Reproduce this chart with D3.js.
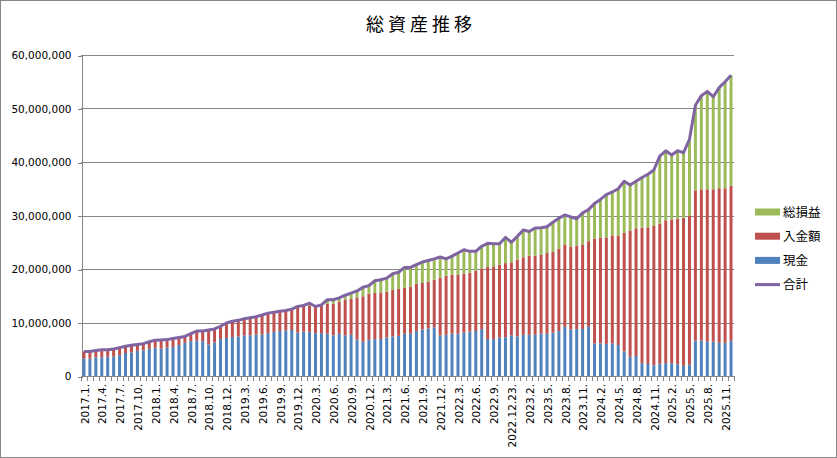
<!DOCTYPE html>
<html>
<head>
<meta charset="utf-8">
<script src="https://cdn.jsdelivr.net/npm/d3@7"></script>
<style>
  body { margin: 0; background: #fff; }
  text { font-family: "DejaVu Sans", sans-serif; fill: #000; }
  .jp { font-family: "Noto Sans CJK JP", sans-serif; }
</style>
</head>
<body>
<svg id="chart"></svg>
<script>
// category labels (one per bar)
const dates = [
  '2017.1.', '2017.2.', '2017.3.', '2017.4.', '2017.5.', '2017.6.', '2017.7.', '2017.8.', '2017.9.', '2017.10.',
  '2017.11.', '2017.12.', '2018.1.', '2018.2.', '2018.3.', '2018.4.', '2018.5.', '2018.6.', '2018.7.', '2018.8.',
  '2018.9.', '2018.10.', '2018.11.', '2018.11.30.', '2018.12.', '2019.1.', '2019.2.', '2019.3.', '2019.4.', '2019.5.',
  '2019.6.', '2019.7.', '2019.8.', '2019.9.', '2019.10.', '2019.11.', '2019.12.', '2020.1.', '2020.2.', '2020.3.',
  '2020.4.', '2020.5.', '2020.6.', '2020.7.', '2020.8.', '2020.9.', '2020.10.', '2020.11.', '2020.12.', '2021.1.',
  '2021.2.', '2021.3.', '2021.4.', '2021.5.', '2021.6.', '2021.7.', '2021.8.', '2021.9.', '2021.10.', '2021.11.',
  '2021.12.', '2022.1.', '2022.2.', '2022.3.', '2022.4.', '2022.5.', '2022.6.', '2022.7.', '2022.8.', '2022.9.',
  '2022.10.', '2022.11.', '2022.12.23.', '2022.12.30.', '2023.1.', '2023.2.', '2023.3.', '2023.4.', '2023.5.', '2023.6.',
  '2023.7.', '2023.8.', '2023.9.', '2023.10.', '2023.11.', '2023.12.', '2024.1.', '2024.2.', '2024.3.', '2024.4.',
  '2024.5.', '2024.6.', '2024.7.', '2024.8.', '2024.9.', '2024.10.', '2024.11.', '2024.12.', '2025.1.', '2025.2.',
  '2025.3.', '2025.4.', '2025.5.', '2025.6.', '2025.7.', '2025.8.', '2025.9.', '2025.10.', '2025.11.', '2025.12.'
];

// values in millions of yen
const cash = [
  3.25, 3.25, 3.5, 3.5, 3.6, 3.6, 3.9, 4.3, 4.4, 4.7,
  4.8, 5.1, 5.3, 5.1, 5.3, 5.4, 5.8, 6.2, 6.5, 6.6,
  6.5, 5.9, 6.25, 6.9, 7.1, 7.3, 7.4, 7.6, 7.6, 7.75,
  7.75, 8.0, 8.25, 8.4, 8.5, 8.6, 8.1, 8.3, 8.25, 8.0,
  8.0, 7.9, 7.6, 7.9, 7.6, 7.7, 6.8, 6.4, 6.75, 6.9,
  6.9, 7.2, 7.4, 7.5, 7.9, 7.9, 8.4, 8.7, 8.9, 9.1,
  7.6, 7.7, 7.9, 7.9, 8.1, 8.3, 8.4, 8.75, 6.9, 6.9,
  7.2, 7.25, 7.6, 7.4, 7.7, 7.7, 7.7, 7.9, 7.9, 8.1,
  8.4, 9.2, 8.7, 8.8, 8.8, 9.2, 6.1, 6.1, 6.0, 6.1,
  5.8, 4.6, 3.6, 3.75, 2.4, 2.25, 2.0, 2.3, 2.4, 2.4,
  2.2, 1.9, 2.1, 6.6, 6.6, 6.4, 6.4, 6.2, 6.2, 6.6
];

const deposit = [
  1.35, 1.35, 1.25, 1.4, 1.3, 1.45, 1.4, 1.25, 1.35, 1.2,
  1.25, 1.3, 1.4, 1.65, 1.5, 1.6, 1.4, 1.2, 1.4, 1.8,
  1.9, 2.7, 2.55, 2.4, 2.8, 2.95, 3.0, 3.1, 3.3, 3.35,
  3.65, 3.75, 3.65, 3.7, 3.75, 3.9, 4.9, 4.9, 4.95, 4.9,
  5.1, 5.6, 5.9, 6.0, 6.65, 6.7, 7.9, 8.5, 8.65, 8.6,
  8.7, 8.55, 8.7, 8.8, 8.6, 8.8, 8.85, 8.7, 8.7, 8.9,
  10.8, 11.05, 11.0, 11.0, 11.0, 11.0, 11.3, 11.35, 13.5, 13.6,
  13.6, 13.85, 13.65, 14.35, 14.5, 14.8, 14.8, 14.8, 15.1, 15.15,
  15.4, 15.4, 15.5, 15.6, 15.8, 16.0, 19.6, 19.8, 19.9, 20.2,
  20.45, 22.2, 23.6, 23.85, 25.35, 25.55, 26.1, 26.2, 26.7, 26.85,
  27.2, 27.7, 27.9, 28.1, 28.3, 28.5, 28.5, 28.9, 28.9, 29.0
];

const profit = [
  0, 0, 0, 0, 0, 0, 0, 0, 0, 0,
  0, 0, 0, 0, 0, 0, 0, 0, 0, 0,
  0, 0, 0, 0, 0, 0, 0, 0, 0, 0,
  0, 0, 0, 0, 0, 0, 0, 0, 0.4, 0.1,
  0.2, 0.75, 0.75, 0.7, 0.85, 1.1, 1.2, 1.7, 1.5, 2.3,
  2.4, 2.55, 3.0, 3.1, 3.8, 3.6, 3.55, 3.9, 4.0, 3.9,
  3.85, 3.15, 3.5, 4.1, 4.5, 4.0, 3.6, 4.15, 4.4, 4.2,
  3.9, 4.8, 3.75, 4.35, 5.1, 4.5, 5.15, 5.0, 4.9, 5.5,
  5.7, 5.5, 5.55, 5.0, 5.9, 5.9, 6.55, 7.1, 8.0, 8.1,
  8.75, 9.6, 8.5, 8.8, 9.35, 9.9, 10.4, 12.6, 13.0, 12.05,
  12.7, 12.15, 14.25, 15.9, 17.5, 18.3, 17.3, 18.8, 19.9, 20.6
];

const yTicks = [0, 10e6, 20e6, 30e6, 40e6, 50e6, 60e6];
const labelEvery = 3;

const series = [
  { key: 'cash', name: '現金', color: '#4F81BD' },
  { key: 'deposit', name: '入金額', color: '#C0504D' },
  { key: 'profit', name: '総損益', color: '#9BBB59' }
];
const totalName = '合計';
const totalColor = '#8064A2';

const width = 837;
const height = 458;
const plot = { left: 81, right: 734, top: 55, bottom: 376 };

const rows = dates.map((d, i) => ({
  date: d,
  cash: cash[i] * 1e6,
  deposit: deposit[i] * 1e6,
  profit: profit[i] * 1e6
}));

const svg = d3.select('#chart').attr('width', width).attr('height', height);

// chart frame
svg.append('rect')
  .attr('x', 0.5).attr('y', 0.5)
  .attr('width', width - 1).attr('height', height - 1)
  .attr('fill', '#fff')
  .attr('stroke', '#868686');

const x = d3.scaleBand()
  .domain(d3.range(rows.length))
  .range([plot.left, plot.right])
  .paddingInner(0.5)
  .paddingOuter(0.25);

const y = d3.scaleLinear().domain([0, 60e6]).range([plot.bottom, plot.top]);

// gridlines
svg.append('g')
  .attr('shape-rendering', 'crispEdges')
  .selectAll('line')
  .data(yTicks.slice(1))
  .join('line')
  .attr('x1', plot.left).attr('x2', plot.right)
  .attr('y1', d => Math.round(y(d)) + 0.5).attr('y2', d => Math.round(y(d)) + 0.5)
  .attr('stroke', '#868686');

// y axis
const gy = svg.append('g')
  .attr('transform', `translate(${plot.left + 0.5}, 0.5)`)
  .call(d3.axisLeft(y).tickValues(yTicks).tickSize(4).tickPadding(6).tickFormat(d3.format(',')));
gy.select('.domain').attr('stroke', '#868686').attr('shape-rendering', 'crispEdges');
gy.selectAll('.tick line').attr('stroke', '#868686').attr('shape-rendering', 'crispEdges');
gy.selectAll('.tick text').attr('font-size', 10.5).attr('font-family', '"DejaVu Sans", sans-serif').attr('fill', '#000');

// bars
const stacked = d3.stack().keys(series.map(s => s.key))(rows);

svg.append('g')
  .selectAll('g')
  .data(stacked)
  .join('g')
  .attr('fill', (d, i) => series[i].color)
  .selectAll('rect')
  .data(d => d)
  .join('rect')
  .attr('x', (d, i) => x(i))
  .attr('width', x.bandwidth())
  .attr('y', d => y(d[1]))
  .attr('height', d => y(d[0]) - y(d[1]));

// x axis
const step = x.step();
const xa = svg.append('g').attr('shape-rendering', 'crispEdges');
xa.append('line')
  .attr('x1', plot.left).attr('x2', plot.right + 1)
  .attr('y1', plot.bottom + 0.5).attr('y2', plot.bottom + 0.5)
  .attr('stroke', '#868686');
xa.selectAll('line.tick')
  .data(d3.range(rows.length + 1))
  .join('line')
  .attr('class', 'tick')
  .attr('x1', i => Math.round(plot.left + i * step) + 0.5)
  .attr('x2', i => Math.round(plot.left + i * step) + 0.5)
  .attr('y1', plot.bottom).attr('y2', plot.bottom + 5)
  .attr('stroke', '#868686');

svg.append('g')
  .selectAll('text')
  .data(rows.filter((d, i) => i % labelEvery === 0))
  .join('text')
  .attr('transform', (d) => {
    const i = dates.indexOf(d.date);
    return `translate(${x(i) + x.bandwidth() / 2 + 1}, ${plot.bottom + 8}) rotate(-90)`;
  })
  .attr('text-anchor', 'end')
  .attr('dy', '0.35em')
  .attr('font-size', 10.5)
  .text(d => d.date);

// total line
const topLayer = stacked[stacked.length - 1];
svg.append('path')
  .datum(topLayer)
  .attr('fill', 'none')
  .attr('stroke', totalColor)
  .attr('stroke-width', 3)
  .attr('stroke-linejoin', 'round')
  .attr('d', d3.line()
    .x((d, i) => x(i) + x.bandwidth() / 2)
    .y(d => y(d[1])));

// title
svg.append('text')
  .attr('class', 'jp')
  .attr('x', 421)
  .attr('y', 31)
  .attr('text-anchor', 'middle')
  .attr('font-size', 18)
  .attr('letter-spacing', 4)
  .text('総資産推移');

// legend
const legendItems = [
  { name: series[2].name, color: series[2].color, h: 7 },
  { name: series[1].name, color: series[1].color, h: 7 },
  { name: series[0].name, color: series[0].color, h: 7 },
  { name: totalName, color: totalColor, h: 3 }
];
const legend = svg.append('g').attr('transform', 'translate(755, 212)');
const li = legend.selectAll('g')
  .data(legendItems)
  .join('g')
  .attr('transform', (d, i) => `translate(0, ${i * 24.2})`);
li.append('rect')
  .attr('x', 0).attr('y', d => -d.h / 2)
  .attr('width', 25).attr('height', d => d.h)
  .attr('fill', d => d.color);
li.append('text')
  .attr('class', 'jp')
  .attr('x', 28)
  .attr('dy', '0.36em')
  .attr('font-size', 12.5)
  .text(d => d.name);
</script>
</body>
</html>
